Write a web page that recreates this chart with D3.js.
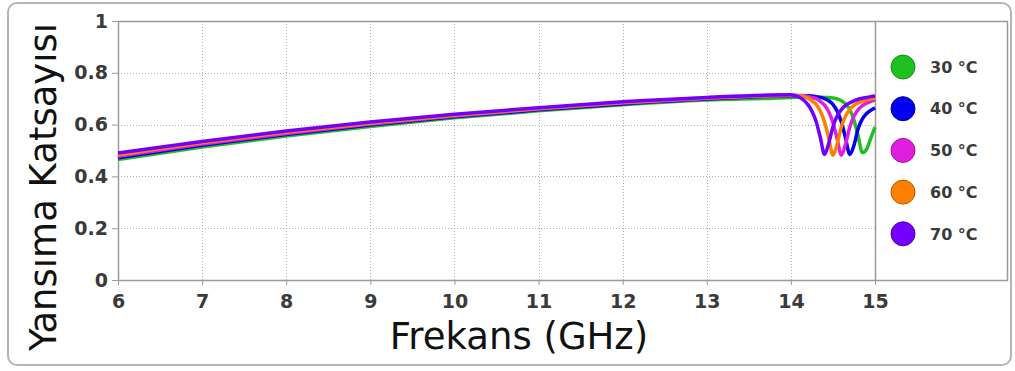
<!DOCTYPE html>
<html>
<head>
<meta charset="utf-8">
<script src="https://cdn.jsdelivr.net/npm/d3@7/dist/d3.min.js"></script>
<style>
  html, body { margin: 0; padding: 0; background: #fff; }
  svg { display: block; }
</style>
</head>
<body>
<svg id="chart" width="1015" height="371"></svg>
<script>
// Frequency samples (GHz): coarse over the smooth rise, fine across the resonance
const freqs = [6, 7, 8, 9, 10, 11, 12, 13,
  14.00, 14.05, 14.10, 14.15, 14.20, 14.25, 14.30, 14.35, 14.40, 14.45, 14.50,
  14.55, 14.60, 14.65, 14.70, 14.75, 14.80, 14.85, 14.90, 14.95, 15.00];

// Reflection coefficient per temperature
const refl30 = [0.465, 0.513, 0.556, 0.593, 0.626, 0.653, 0.677, 0.695,
  0.705, 0.706, 0.706, 0.706, 0.706, 0.706, 0.706, 0.706, 0.705, 0.705, 0.703,
  0.699, 0.692, 0.680, 0.658, 0.618, 0.555, 0.492, 0.505, 0.548, 0.590];
const refl40 = [0.472, 0.520, 0.562, 0.598, 0.630, 0.657, 0.680, 0.699,
  0.711, 0.711, 0.711, 0.711, 0.711, 0.710, 0.708, 0.705, 0.700, 0.692, 0.678,
  0.652, 0.610, 0.548, 0.485, 0.520, 0.585, 0.622, 0.643, 0.655, 0.665];
const refl50 = [0.478, 0.525, 0.566, 0.602, 0.633, 0.660, 0.683, 0.701,
  0.712, 0.712, 0.712, 0.711, 0.709, 0.705, 0.700, 0.690, 0.675, 0.650, 0.608,
  0.545, 0.482, 0.525, 0.590, 0.632, 0.658, 0.673, 0.683, 0.690, 0.695];
const refl60 = [0.483, 0.530, 0.570, 0.605, 0.636, 0.662, 0.685, 0.703,
  0.713, 0.713, 0.711, 0.708, 0.702, 0.692, 0.678, 0.652, 0.610, 0.548, 0.482,
  0.525, 0.592, 0.633, 0.658, 0.674, 0.684, 0.691, 0.696, 0.700, 0.703];
const refl70 = [0.490, 0.535, 0.575, 0.610, 0.640, 0.665, 0.688, 0.705,
  0.715, 0.712, 0.706, 0.695, 0.678, 0.652, 0.612, 0.550, 0.485, 0.528, 0.592,
  0.633, 0.658, 0.674, 0.684, 0.692, 0.698, 0.702, 0.705, 0.708, 0.710];

const seriesNames = ["30 °C", "40 °C", "50 °C", "60 °C", "70 °C"];
const seriesColors = ["#1fc01f", "#0000ee", "#e01ee0", "#ff8000", "#7300ff"];
const seriesStrokes = ["#189018", "#00009a", "#a010a0", "#b05a00", "#4c00aa"];
const seriesValues = [refl30, refl40, refl50, refl60, refl70];

const xTicks = [6, 7, 8, 9, 10, 11, 12, 13, 14, 15];
const yTicks = [0, 0.2, 0.4, 0.6, 0.8, 1];
const yTickLabels = ["0", "0.2", "0.4", "0.6", "0.8", "1"];

const svg = d3.select("#chart");
const font = "'DejaVu Sans', Verdana, sans-serif";

// Outer panel
svg.append("rect")
  .attr("x", 8).attr("y", 3).attr("width", 1003).attr("height", 362)
  .attr("rx", 9).attr("ry", 9)
  .attr("fill", "#fff").attr("stroke", "#b4b4b4").attr("stroke-width", 2);

const plot = { left: 118, right: 875, top: 21, bottom: 280, frameRight: 1007 };

const x = d3.scaleLinear().domain([6, 15]).range([plot.left, plot.right]);
const y = d3.scaleLinear().domain([0, 1]).range([plot.bottom, plot.top]);

// Dotted grid
const grid = svg.append("g").attr("stroke", "#b0b0b0").attr("stroke-width", 1)
  .attr("stroke-dasharray", "1,2");
grid.selectAll("line.v").data(xTicks.filter(t => t > 6 && t < 15)).join("line")
  .attr("x1", d => Math.round(x(d)) + 0.5).attr("x2", d => Math.round(x(d)) + 0.5)
  .attr("y1", plot.top).attr("y2", plot.bottom);
grid.selectAll("line.h").data(yTicks.filter(t => t > 0 && t < 1)).join("line")
  .attr("x1", plot.left).attr("x2", plot.right)
  .attr("y1", d => Math.round(y(d)) + 0.5).attr("y2", d => Math.round(y(d)) + 0.5);

// Frame, including the legend compartment on the right
svg.append("rect")
  .attr("x", plot.left + 0.5).attr("y", plot.top + 0.5)
  .attr("width", plot.frameRight - plot.left).attr("height", plot.bottom - plot.top)
  .attr("fill", "none").attr("stroke", "#9a9a9a").attr("stroke-width", 1.5);
svg.append("line")
  .attr("x1", x(15) + 0.5).attr("x2", x(15) + 0.5)
  .attr("y1", plot.top).attr("y2", plot.bottom)
  .attr("stroke", "#9a9a9a").attr("stroke-width", 1.5);

// Axes
const xAxis = svg.append("g").attr("transform", `translate(0,${plot.bottom})`)
  .call(d3.axisBottom(x).tickValues(xTicks).tickFormat(d3.format("d"))
    .tickSize(5).tickSizeOuter(0).tickPadding(10));
const yAxis = svg.append("g").attr("transform", `translate(${plot.left},0)`)
  .call(d3.axisLeft(y).tickValues(yTicks).tickFormat((d, i) => yTickLabels[i])
    .tickSize(6).tickSizeOuter(0).tickPadding(4));
[xAxis, yAxis].forEach(g => {
  g.select(".domain").remove();
  g.selectAll(".tick line").attr("stroke", "#9a9a9a");
  g.selectAll(".tick text").attr("fill", "#3a3a3a").style("font-family", font)
    .style("font-size", "19px").style("font-weight", "bold");
});

// Curves
const line = d3.line()
  .x((d, i) => x(freqs[i]))
  .y(d => y(d))
  .curve(d3.curveMonotoneX);
svg.append("g").selectAll("path").data(seriesValues).join("path")
  .attr("d", d => line(d))
  .attr("fill", "none")
  .attr("stroke", (d, i) => seriesColors[i])
  .attr("stroke-width", 3.5)
  .attr("stroke-linejoin", "round");

// Legend
const legend = svg.append("g");
const items = legend.selectAll("g").data(seriesNames).join("g")
  .attr("transform", (d, i) => `translate(903,${67 + i * 41.7})`);
items.append("circle").attr("r", 12)
  .attr("fill", (d, i) => seriesColors[i])
  .attr("stroke", (d, i) => seriesStrokes[i]).attr("stroke-width", 1);
items.append("text")
  .attr("x", 27).attr("dy", "0.36em")
  .attr("fill", "#3a3a3a").style("font-family", font).style("font-size", "16px")
  .style("font-weight", "bold")
  .text(d => d);

// Axis titles
svg.append("text")
  .attr("x", 519).attr("y", 349)
  .attr("text-anchor", "middle")
  .attr("fill", "#111").style("font-family", font).style("font-size", "37px")
  .text("Frekans (GHz)");
svg.append("text")
  .attr("transform", "translate(56,187) rotate(-90)")
  .attr("text-anchor", "middle")
  .attr("fill", "#111").style("font-family", font).style("font-size", "37px")
  .text("Yansıma Katsayısı");
</script>
</body>
</html>
